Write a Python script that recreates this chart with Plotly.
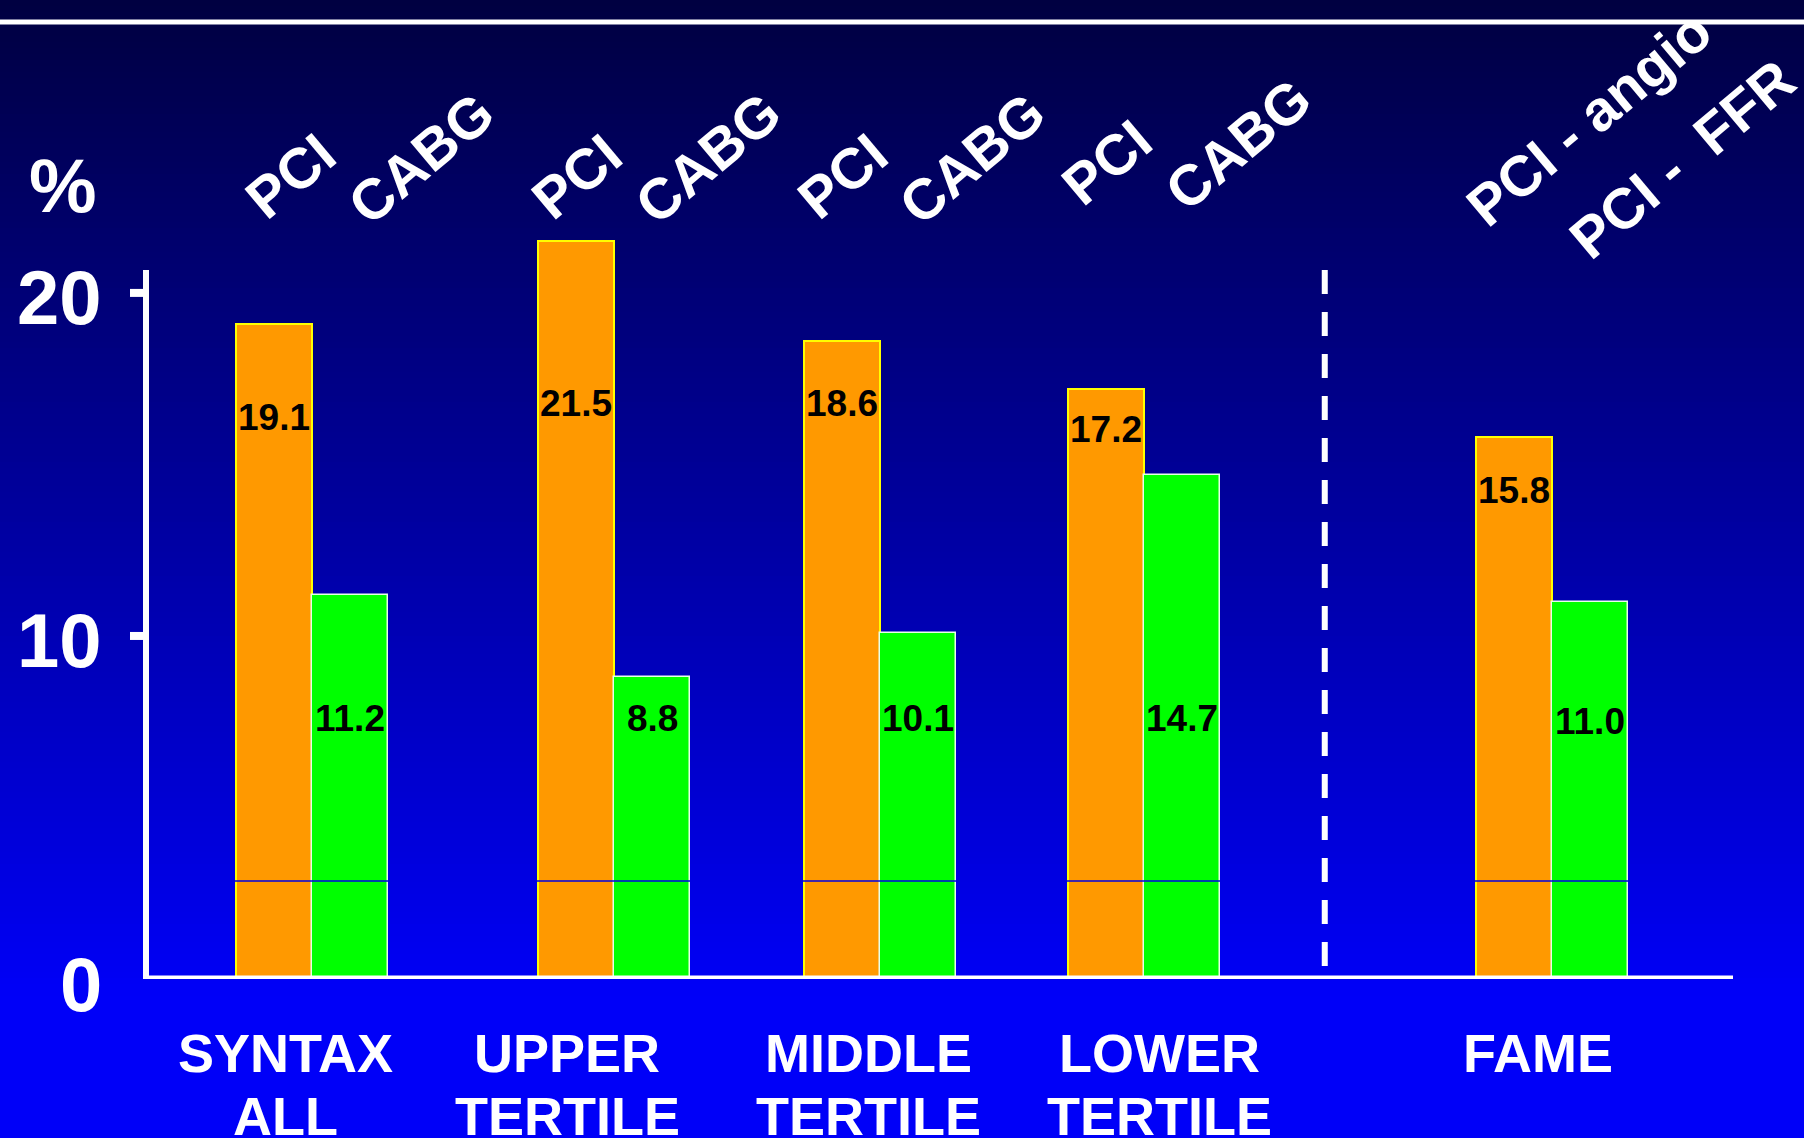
import plotly.graph_objects as go

# ---- data -------------------------------------------------------------
CATEGORIES = ["SYNTAX\nALL", "UPPER\nTERTILE", "MIDDLE\nTERTILE", "LOWER\nTERTILE", "FAME"]
PCI_NAMES = ["PCI", "PCI", "PCI", "PCI", "PCI - angio"]
CMP_NAMES = ["CABG", "CABG", "CABG", "CABG", "PCI - \u00a0FFR"]
PCI_VALUES = [19.1, 21.5, 18.6, 17.2, 15.8]
CMP_VALUES = [11.2, 8.8, 10.1, 14.7, 11.0]
Y_TICKS = [0, 10, 20]
Y_TICK_TEXT = ["0", "10", "20"]
Y_UNIT = "%"

# ---- layout constants ---------------------------------------------------
FIG_W, FIG_H = 1804, 1138
M_L, M_R, M_T, M_B = 146, 71, 190, 159
PLOT_W = FIG_W - M_L - M_R
PLOT_H = FIG_H - M_T - M_B
BAR_PX = 76
BAR_W = 1.0
X_MAX = PLOT_W / BAR_PX
Y_MAX = 23
GROUP_X = [2.184, 6.164, 9.658, 13.125, 18.5]
DIVIDER_X = 15.51
AXIS_TOP = 20.67
DIVIDER_SPAN = (20.67, 0.32)
BAND_Y = 2.86

# text placement (x in axis units, y in pixels from the top of the page)
PCI_HEAD = [(1.895, 176), (5.67, 176), (9.16, 176), (12.64, 162), (18.99, 118)]
CMP_HEAD = [(3.62, 158), (7.39, 158), (10.87, 158), (14.37, 144), (20.21, 159)]
CAT_LABEL_X = [1.83, 5.54, 9.51, 13.34, 18.32]
CAT_LINE_PX = [1053, 1116]
PCI_LABEL_Y = [16.36, 16.79, 16.79, 16.03, 14.23]
CMP_LABEL_Y = [7.58, 7.58, 7.58, 7.58, 7.52]

FONT = "Liberation Sans, Arial, Helvetica, sans-serif"
ORANGE = "#FF9900"
GREEN = "#00FF00"

# background gradient: dark navy at the top, bright blue further down
TOP_RGB, BOT_RGB, GRAD_END = (0, 0, 0x40), (0, 0, 0xF8), 1000


def paper_x(px):
    return (px - M_L) / PLOT_W


def paper_y(py):
    return (FIG_H - M_B - py) / PLOT_H


def bg_color(py):
    t = min(1.0, max(0.0, py / GRAD_END))
    return tuple(round(a + (b - a) * t) for a, b in zip(TOP_RGB, BOT_RGB))


fig = go.Figure()

fig.add_trace(go.Bar(
    x=GROUP_X, y=PCI_VALUES, width=BAR_W, offset=-BAR_W,
    marker=dict(color=ORANGE, line=dict(color="#FFFF00", width=2)),
    hoverinfo="skip", showlegend=False,
))
fig.add_trace(go.Bar(
    x=GROUP_X, y=CMP_VALUES, width=BAR_W, offset=0,
    marker=dict(color=GREEN, line=dict(color="#E8FFE8", width=1.5)),
    hoverinfo="skip", showlegend=False,
))

shapes = []

step = 6
for py in range(0, FIG_H, step):
    shapes.append(dict(
        type="rect", xref="paper", yref="paper", layer="below",
        x0=paper_x(-5), x1=paper_x(FIG_W + 5),
        y0=paper_y(py + step + 1), y1=paper_y(py),
        line=dict(width=0), fillcolor=f"rgb{bg_color(py + step / 2)}",
    ))

# white rule along the top
shapes.append(dict(type="line", xref="paper", yref="paper", layer="above",
                   x0=paper_x(0), x1=paper_x(FIG_W), y0=paper_y(22), y1=paper_y(22),
                   line=dict(color="white", width=5)))

# thin band line across the bars, tinted like the background behind it
band_px = FIG_H - M_B - BAND_Y * PLOT_H / Y_MAX
shapes.append(dict(type="line", xref="paper", yref="y", layer="above",
                   x0=0, x1=1, y0=BAND_Y, y1=BAND_Y,
                   line=dict(color=f"rgb{bg_color(band_px)}", width=1.5)))

# y axis and its tick marks
shapes.append(dict(type="line", xref="paper", yref="y", layer="above",
                   x0=0, x1=0, y0=0, y1=AXIS_TOP,
                   line=dict(color="white", width=6)))
for v in Y_TICKS[1:]:
    shapes.append(dict(type="line", xref="paper", yref="y", layer="above",
                       x0=paper_x(130), x1=0, y0=v, y1=v,
                       line=dict(color="white", width=8)))

# baseline
shapes.append(dict(type="line", xref="paper", yref="y", layer="above",
                   x0=paper_x(143), x1=1, y0=0, y1=0,
                   line=dict(color="white", width=7)))

# dashed divider before the FAME group
shapes.append(dict(type="line", xref="x", yref="y", layer="above",
                   x0=DIVIDER_X, x1=DIVIDER_X, y0=DIVIDER_SPAN[0], y1=DIVIDER_SPAN[1],
                   line=dict(color="white", width=6, dash="24px,18px")))

annotations = []

# y tick labels and unit
for v, txt in zip(Y_TICKS, Y_TICK_TEXT):
    annotations.append(dict(
        text=f"<b>{txt}</b>", xref="paper", yref="y", x=paper_x(104), y=v,
        xanchor="right", yanchor="middle", yshift=-5, showarrow=False,
        font=dict(family=FONT, size=76, color="white"),
    ))
annotations.append(dict(
    text=f"<b>{Y_UNIT}</b>", xref="paper", yref="paper", x=paper_x(63), y=paper_y(185),
    xanchor="center", yanchor="middle", showarrow=False,
    font=dict(family=FONT, size=76, color="white"),
))

# rotated column headers
for names, heads in ((PCI_NAMES, PCI_HEAD), (CMP_NAMES, CMP_HEAD)):
    for name, (hx, hy) in zip(names, heads):
        annotations.append(dict(
            text=f"<b>{name}</b>", xref="x", yref="paper", x=hx, y=paper_y(hy),
            xanchor="center", yanchor="middle", textangle=-40, showarrow=False,
            font=dict(family=FONT, size=57, color="white"),
        ))

# value labels inside the bars
for gx, val, ly in zip(GROUP_X, PCI_VALUES, PCI_LABEL_Y):
    annotations.append(dict(
        text=f"<b>{val:.1f}</b>", xref="x", yref="y", x=gx - BAR_W / 2, y=ly,
        xanchor="center", yanchor="middle", showarrow=False,
        font=dict(family=FONT, size=37, color="black"),
    ))
for gx, val, ly in zip(GROUP_X, CMP_VALUES, CMP_LABEL_Y):
    annotations.append(dict(
        text=f"<b>{val:.1f}</b>", xref="x", yref="y", x=gx + BAR_W / 2, y=ly,
        xanchor="center", yanchor="middle", showarrow=False,
        font=dict(family=FONT, size=37, color="black"),
    ))

# category labels under the baseline
for cat, cx in zip(CATEGORIES, CAT_LABEL_X):
    for line, ly in zip(cat.split("\n"), CAT_LINE_PX):
        annotations.append(dict(
            text=f"<b>{line}</b>", xref="x", yref="paper", x=cx, y=paper_y(ly),
            xanchor="center", yanchor="middle", showarrow=False,
            font=dict(family=FONT, size=54, color="white"),
        ))

fig.update_layout(
    width=FIG_W, height=FIG_H,
    margin=dict(l=M_L, r=M_R, t=M_T, b=M_B, autoexpand=False),
    paper_bgcolor="#0000F8", plot_bgcolor="rgba(0,0,0,0)",
    barmode="overlay", bargap=0,
    xaxis=dict(range=[0, X_MAX], visible=False, fixedrange=True),
    yaxis=dict(range=[0, Y_MAX], visible=False, fixedrange=True),
    shapes=shapes, annotations=annotations,
    showlegend=False,
)

fig.write_html("out.html", config={"displayModeBar": False})
